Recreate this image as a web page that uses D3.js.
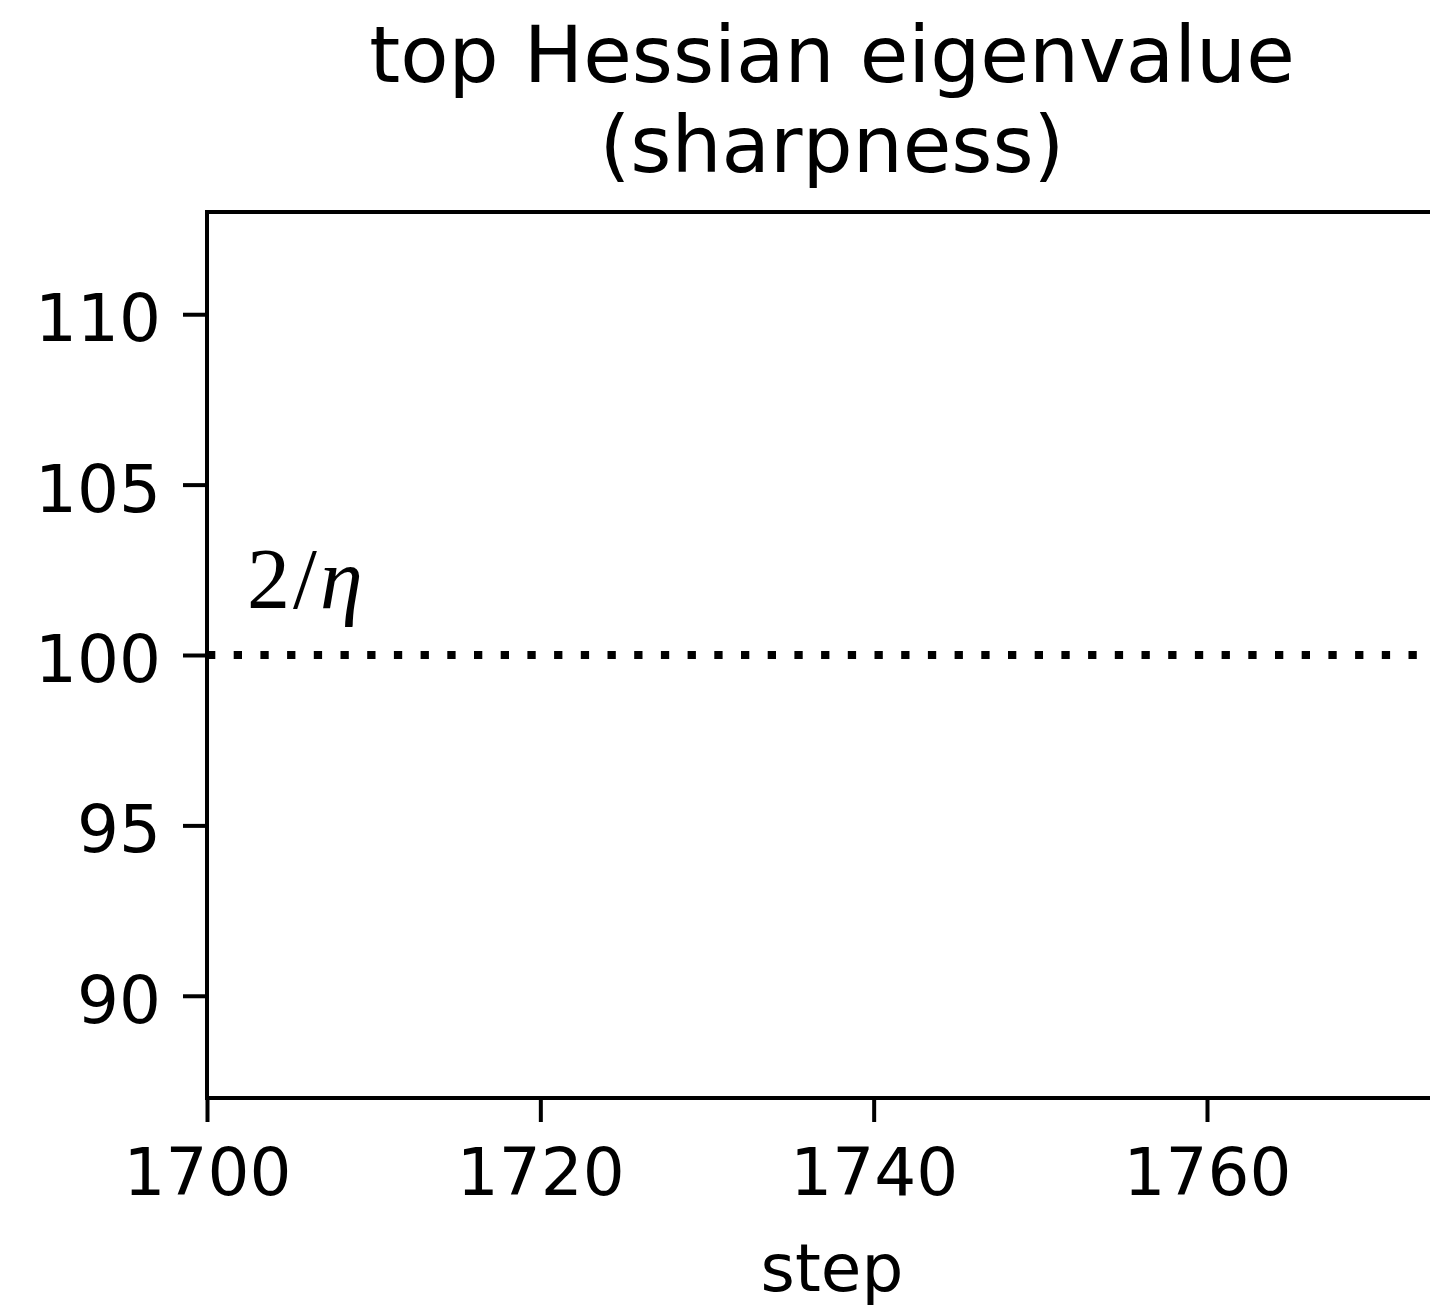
<!DOCTYPE html>
<html>
<head>
<meta charset="utf-8">
<script src="https://cdnjs.cloudflare.com/ajax/libs/d3/7.8.5/d3.min.js"></script>
<style>
  html, body { margin: 0; padding: 0; background: #fff; overflow: hidden; }
  svg { display: block; }
  text { font-family: "DejaVu Sans", sans-serif; fill: #000; }
</style>
</head>
<body>
<svg id="chart" width="1430" height="1306"></svg>
<script>
// Axis extents and tick marks
const stepDomain = [1700, 1775];
const sharpnessDomain = [87, 113];
const stepTicks = [1700, 1720, 1740, 1760];
const sharpnessTicks = [90, 95, 100, 105, 110];

// Stability threshold 2/eta (learning rate eta = 0.02)
const eta = 0.02;
const thresholdValue = 2 / eta;
const thresholdSteps = [1700, 1775];

const titleLines = ["top Hessian eigenvalue", "(sharpness)"];
const xLabel = "step";

const W = 1430, H = 1306;
const plot = { left: 207, top: 212, right: 1457, bottom: 1098 };

const svg = d3.select("#chart");

const x = d3.scaleLinear().domain(stepDomain).range([plot.left, plot.right]);
const y = d3.scaleLinear().domain(sharpnessDomain).range([plot.bottom, plot.top]);

// threshold line
svg.append("path")
  .datum(thresholdSteps.map(s => [s, thresholdValue]))
  .attr("d", d3.line().x(d => x(d[0])).y(d => y(d[1])))
  .attr("fill", "none")
  .attr("stroke", "#000")
  .attr("stroke-width", 8)
  .attr("stroke-dasharray", "8.3 18.4")
  .attr("stroke-linecap", "butt");

// threshold label
const lab = svg.append("text")
  .attr("x", 247)
  .attr("y", 608)
  .style("font-family", "'Liberation Serif', 'DejaVu Serif', serif")
  .style("font-size", "86px");
lab.append("tspan").text("2");
lab.append("tspan").attr("dx", 3).text("/");
lab.append("tspan").attr("dx", 3).style("font-style", "italic").text("η");

// axes
const tickLen = 24, tickPad = 26, fs = 66;

const xAxis = d3.axisBottom(x).tickValues(stepTicks).tickFormat(d3.format("d"))
  .tickSize(tickLen).tickPadding(tickPad);
const gx = svg.append("g").attr("transform", `translate(0,${plot.bottom})`).call(xAxis);
gx.select(".domain").remove();
gx.selectAll(".tick line").attr("stroke", "#000").attr("stroke-width", 4);
gx.selectAll(".tick text").style("font-size", fs + "px").style("font-family", "'DejaVu Sans', sans-serif").attr("fill", "#000");

const yAxis = d3.axisLeft(y).tickValues(sharpnessTicks).tickFormat(d3.format("d"))
  .tickSize(tickLen).tickPadding(tickPad - 4);
const gy = svg.append("g").attr("transform", `translate(${plot.left},0)`).call(yAxis);
gy.select(".domain").remove();
gy.selectAll(".tick line").attr("stroke", "#000").attr("stroke-width", 4);
gy.selectAll(".tick text").style("font-size", fs + "px").style("font-family", "'DejaVu Sans', sans-serif")
  .attr("fill", "#000").attr("dy", "0.4em");

// spines (left, top, bottom; right lies past the visible edge)
svg.append("rect")
  .attr("x", plot.left).attr("y", plot.top)
  .attr("width", plot.right - plot.left).attr("height", plot.bottom - plot.top)
  .attr("fill", "none").attr("stroke", "#000").attr("stroke-width", 4);

// title
const cx = (plot.left + plot.right) / 2;
svg.selectAll("text.title").data(titleLines).enter().append("text")
  .attr("class", "title")
  .attr("x", cx)
  .attr("y", (d, i) => 82 + i * 90)
  .attr("text-anchor", "middle")
  .style("font-size", "79px")
  .text(d => d);

// x label
svg.append("text")
  .attr("x", cx).attr("y", 1291)
  .attr("text-anchor", "middle")
  .style("font-size", fs + "px")
  .text(xLabel);
</script>
</body>
</html>
